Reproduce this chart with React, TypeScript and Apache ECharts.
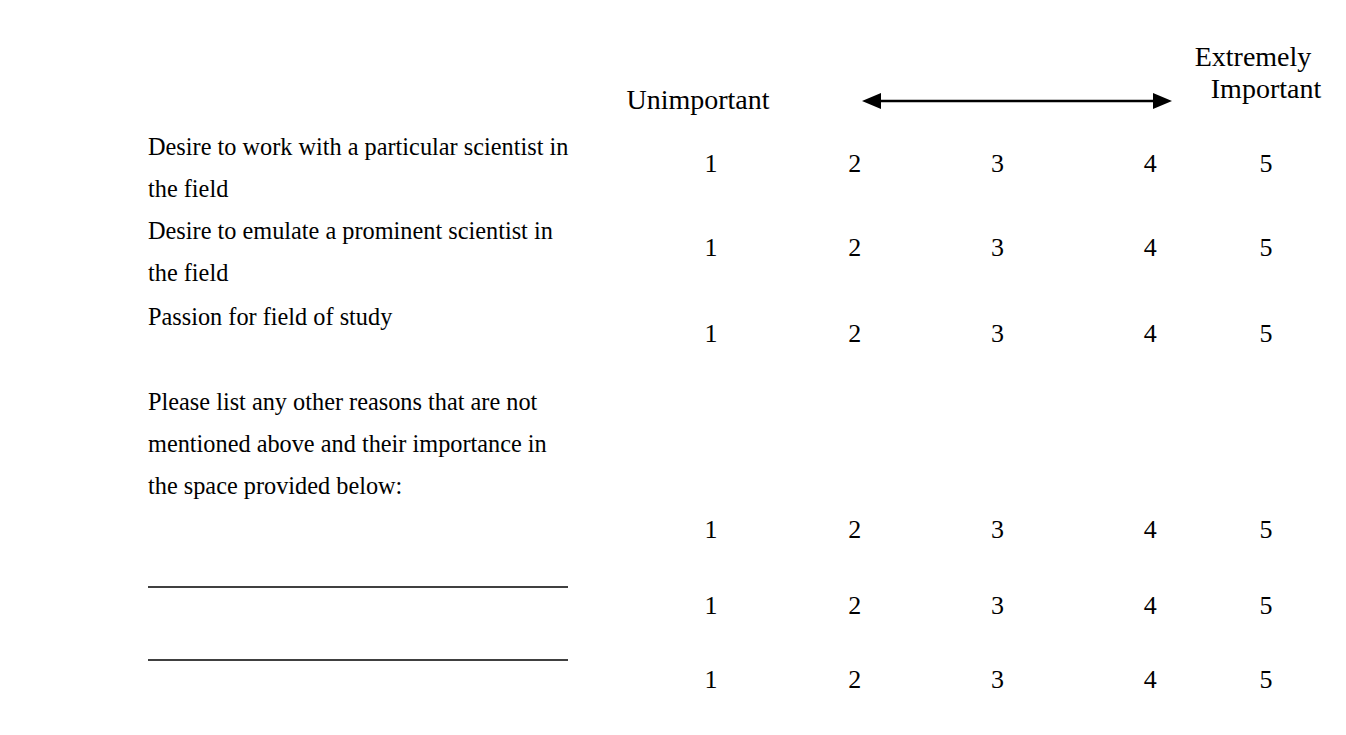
import React, { useEffect, useRef } from "react";
import * as echarts from "echarts";

// ---- content ----
const questionLines: string[][] = [
  ["Desire to work with a particular scientist in", "the field"],
  ["Desire to emulate a prominent scientist in", "the field"],
  ["Passion for field of study"],
  [
    "Please list any other reasons that are not",
    "mentioned above and their importance in",
    "the space provided below:",
  ],
];
const scaleValues = [1, 2, 3, 4, 5];
const rowNames = ["Scientist", "Emulate", "Passion", "Other 1", "Other 2", "Other 3"];
const lowLabel = "Unimportant";
const highLabel = ["Extremely", "Important"];

// ---- layout (pixels) ----
const W = 1346;
const H = 735;
const textLeft = 148;
const questionTop = [146, 230, 316, 401];
const lineGap = 42;
const rowY = [163, 247, 333, 529, 605, 679];
const columnNudge = [0, 5, 9, 23, 0];
const blankLinesY = [587, 660];
const FONT = "'Liberation Serif', 'Times New Roman', serif";

export default function App() {
  const ref = useRef<HTMLDivElement>(null);
  useEffect(() => {
    if (!ref.current) return;
    document.body.style.margin = "0";
    const chart = echarts.init(ref.current, null, { renderer: "svg" });

    const data: any[] = [];
    rowNames.forEach((name, r) => {
      scaleValues.forEach((v, i) => {
        data.push({
          name,
          value: [v, rowY[r]],
          label: { offset: [columnNudge[i], 0] },
        });
      });
    });

    const txt = (text: string, x: number, y: number, size: number, align: string) => ({
      type: "text",
      x,
      y,
      style: {
        text,
        font: `${size}px ${FONT}`,
        fill: "#000",
        textAlign: align,
        textVerticalAlign: "middle",
      },
    });

    const graphics: any[] = [];
    questionLines.forEach((lines, q) => {
      lines.forEach((t, k) => {
        graphics.push(txt(t, textLeft, questionTop[q] + k * lineGap, 24.3, "left"));
      });
    });
    blankLinesY.forEach((y) => {
      graphics.push({
        type: "line",
        shape: { x1: textLeft, y1: y, x2: 568, y2: y },
        style: { stroke: "#000", lineWidth: 1.5 },
      });
    });
    graphics.push(txt(lowLabel, 698, 99, 28, "center"));
    graphics.push(txt(highLabel[0], 1253, 56, 28, "center"));
    graphics.push(txt(highLabel[1], 1266, 88, 28, "center"));
    // arrow
    graphics.push({
      type: "line",
      shape: { x1: 876, y1: 101, x2: 1158, y2: 101 },
      style: { stroke: "#000", lineWidth: 2.5 },
    });
    graphics.push({
      type: "polygon",
      shape: { points: [[862, 101], [881, 93], [881, 109]] },
      style: { fill: "#000" },
    });
    graphics.push({
      type: "polygon",
      shape: { points: [[1172, 101], [1153, 93], [1153, 109]] },
      style: { fill: "#000" },
    });

    chart.setOption({
      animation: false,
      backgroundColor: "#fff",
      grid: { left: 711, right: W - 1266, top: 0, bottom: 0 },
      xAxis: { type: "value", min: 1, max: 5, show: false },
      yAxis: { type: "value", min: 0, max: H, inverse: true, show: false },
      series: [
        {
          type: "scatter",
          symbolSize: 0,
          data,
          silent: true,
          itemStyle: { opacity: 1 },
          label: {
            show: true,
            position: "inside",
            formatter: (p: any) => String(p.value[0]),
            fontFamily: FONT,
            fontSize: 26,
            color: "#000",
            opacity: 1,
            textBorderWidth: 0,
          },
        },
      ],
      graphic: graphics,
    });
    return () => chart.dispose();
  }, []);
  return (
    <div
      ref={ref}
      style={{ position: "fixed", left: 0, top: 0, width: W, height: H }}
    />
  );
}
